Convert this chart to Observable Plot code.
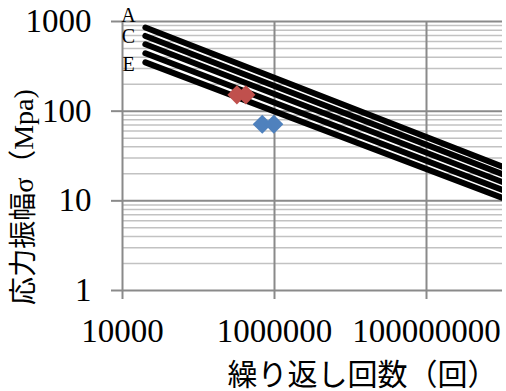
<!DOCTYPE html>
<html><head><meta charset="utf-8">
<script src="https://cdn.jsdelivr.net/npm/d3@7"></script>
<script src="https://cdn.jsdelivr.net/npm/@observablehq/plot@0.6"></script>
<style>html,body{margin:0;padding:0;background:#fff}</style>
</head><body><div id="chart"></div>
<script>
// Fatigue design classes (lines drawn between two read endpoints)
const classes = ["A", "B", "C", "D", "E"];
const lineCycles = [2e4, 1e9];
const stressAtStart = [857, 690, 557, 442, 350];
const stressAtEnd = [24.0, 19.8, 16.2, 13.2, 10.8];

// Test data points
const redCycles = [3.2e5, 4.2e5];
const redStress = [152, 152];
const blueCycles = [6.9e5, 9.8e5];
const blueStress = [71.5, 71.5];

// Class labels shown on the chart
const labelText = ["A", "C", "E"];
const labelCycles = [1.2e4, 1.2e4, 1.2e4];
const labelStress = [1161, 676, 333];

// Axis ticks
const xTicks = [1e4, 1e6, 1e8];
const xTickLabels = ["10000", "1000000", "100000000"];
const yTicks = [1, 10, 100, 1000];
const yTickLabels = ["1", "10", "100", "1000"];
const yMinor = [2,3,4,5,6,7,8,9,20,30,40,50,60,70,80,90,200,300,400,500,600,700,800,900];

const xTitle = "繰り返し回数（回）";
const yTitle = "応力振幅σ（Mpa)";

const lineData = classes.flatMap((c, i) => [
  {cls: c, n: lineCycles[0], s: stressAtStart[i]},
  {cls: c, n: lineCycles[1], s: stressAtEnd[i]}
]);
const red = redCycles.map((n, i) => ({n, s: redStress[i]}));
const blue = blueCycles.map((n, i) => ({n, s: blueStress[i]}));
const labels = labelText.map((t, i) => ({t, n: labelCycles[i], s: labelStress[i]}));
const xTickData = xTicks.map((v, i) => ({v, t: xTickLabels[i]}));
const yTickData = yTicks.map((v, i) => ({v, t: yTickLabels[i]}));

const font = "Liberation Serif, Noto Sans CJK JP, serif";
const majorColor = "#8a8a8a";
const minorColor = "#c2c2c2";

const chart = Plot.plot({
  width: 506,
  height: 391,
  marginLeft: 122,
  marginRight: 4,
  marginTop: 21,
  marginBottom: 101,
  style: {fontFamily: font, fontSize: "32px", background: "#fff", color: "#000", overflow: "visible"},
  x: {type: "log", domain: [1e4, 1e9]},
  y: {type: "log", domain: [1, 1000]},
  marks: [
    Plot.gridY(yMinor, {stroke: minorColor, strokeOpacity: 1, strokeWidth: 1.5}),
    Plot.gridY(yTicks, {stroke: majorColor, strokeOpacity: 1, strokeWidth: 2}),
    Plot.gridX(xTicks.slice(1), {stroke: majorColor, strokeOpacity: 1, strokeWidth: 2}),
    Plot.ruleX([1e4], {stroke: majorColor, strokeWidth: 2}),
    Plot.axisY(yTicks, {tickSize: 11, tickFormat: () => "", stroke: majorColor, strokeWidth: 2, label: null}),
    Plot.axisX(xTicks, {tickSize: 9, tickFormat: () => "", stroke: majorColor, strokeWidth: 2, label: null}),
    Plot.text(yTickData, {y: "v", text: "t", frameAnchor: "left", textAnchor: "end", lineAnchor: "middle", dx: -31, fontSize: 33, fontFamily: font, fill: "#000"}),
    Plot.text(xTickData, {x: "v", text: "t", frameAnchor: "bottom", textAnchor: "middle", lineAnchor: "top", dy: 28, fontSize: 33, fontFamily: font, fill: "#000"}),
    Plot.line(lineData, {x: "n", y: "s", z: "cls", stroke: "#000", strokeWidth: 6, strokeLinecap: "round", clip: true}),
    Plot.dot(red, {x: "n", y: "s", symbol: "diamond2", r: 8.6, fill: "#C0504D", stroke: null}),
    Plot.dot(blue, {x: "n", y: "s", symbol: "diamond2", r: 8.6, fill: "#4F81BD", stroke: null}),
    Plot.text(labels, {x: "n", y: "s", text: "t", fontSize: 20, fontFamily: font, fill: "#000"}),
    Plot.text([yTitle], {frameAnchor: "left", textAnchor: "middle", lineAnchor: "middle", rotate: -90, dx: -98, dy: 41, fontSize: 28, fontFamily: font, fill: "#000"}),
    Plot.text([xTitle], {frameAnchor: "bottom-right", textAnchor: "end", lineAnchor: "middle", dx: -5, dy: 85, fontSize: 30, fontFamily: font, fill: "#000"})
  ]
});
document.getElementById("chart").appendChild(chart);
</script>
</body></html>
